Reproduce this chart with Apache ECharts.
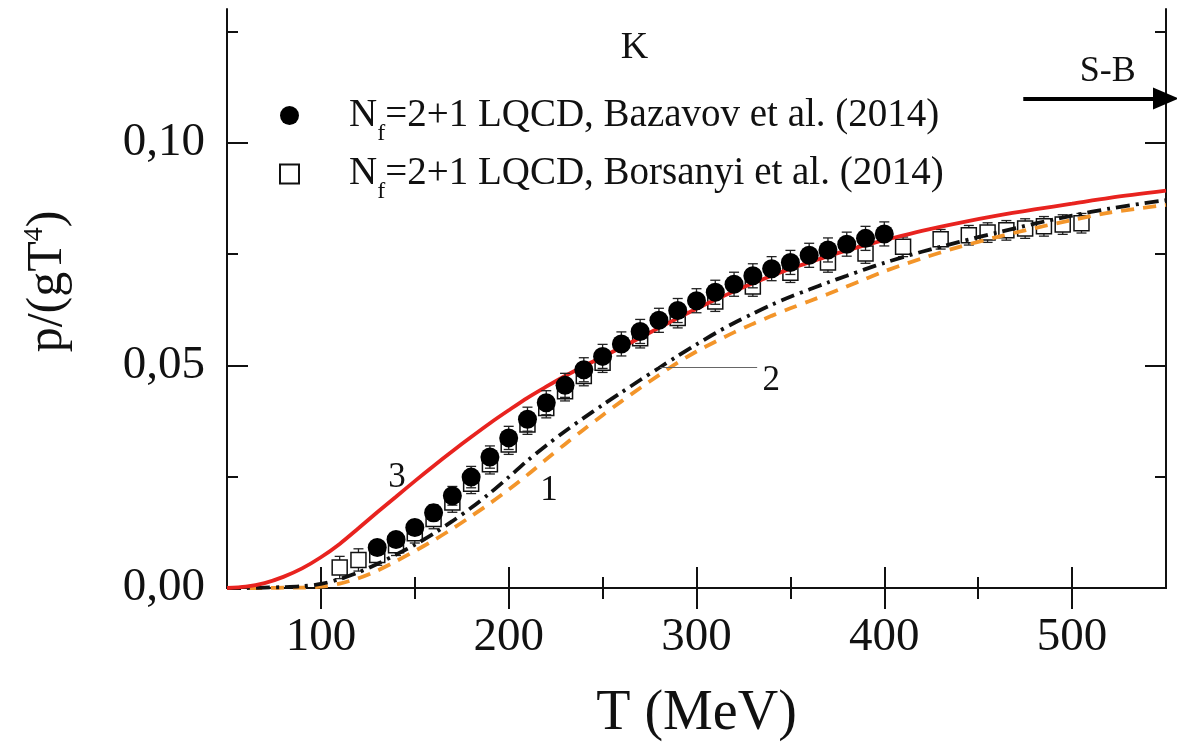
<!DOCTYPE html>
<html>
<head>
<meta charset="utf-8">
<script src="https://cdn.jsdelivr.net/npm/echarts@6/dist/echarts.min.js"></script>
<style>
html, body { margin: 0; padding: 0; background: #fff; }
#chart { width: 1177px; height: 747px; }
</style>
</head>
<body>
<div id="chart"></div>
<script>
// Bazavov et al. (2014), filled circles
var T_BAZ = [130, 140, 150, 160, 170, 180, 190, 200, 210, 220, 230, 240, 250, 260,
  270, 280, 290, 300, 310, 320, 330, 340, 350, 360, 370, 380, 390, 400];
var P_BAZ = [0.0091, 0.0109, 0.0136, 0.0169, 0.0207, 0.0249, 0.0294, 0.0337, 0.0379, 0.0416,
  0.0455, 0.0490, 0.0520, 0.0548, 0.0576, 0.0601, 0.0623, 0.0645, 0.0664, 0.0682,
  0.0701, 0.0717, 0.0731, 0.0747, 0.0759, 0.0772, 0.0785, 0.0795];
var E_BAZ = [0.0012, 0.0014, 0.0016, 0.0018, 0.0021, 0.0024, 0.0025, 0.0026, 0.0027, 0.0027,
  0.0027, 0.0027, 0.0027, 0.0027, 0.0027, 0.0027, 0.0027, 0.0027, 0.0027, 0.0027,
  0.0027, 0.0027, 0.0027, 0.0027, 0.0027, 0.0027, 0.0027, 0.0027];

// Borsanyi et al. (2014), open squares
var T_BOR = [110, 120, 130, 140, 150, 160, 170, 180, 190, 200, 210, 220, 230, 240, 250,
  270, 290, 310, 330, 350, 370, 390, 410, 430, 445, 455, 465, 475, 485, 495, 505];
var P_BOR = [0.0046, 0.0063, 0.0074, 0.0096, 0.0123, 0.0155, 0.0192, 0.0234, 0.0278, 0.0322,
  0.0367, 0.0404, 0.0442, 0.0476, 0.0506, 0.0561, 0.0606, 0.0643, 0.0677, 0.0708,
  0.0731, 0.0751, 0.0766, 0.0783, 0.0792, 0.0798, 0.0803, 0.0807, 0.0812, 0.0816, 0.0819];
var E_BOR = [0.0025, 0.0025, 0.0023, 0.0023, 0.0022, 0.0022, 0.0022, 0.0022, 0.0022, 0.0022,
  0.0022, 0.0022, 0.0022, 0.0022, 0.0022, 0.0022, 0.0022, 0.0022, 0.0022, 0.0022,
  0.0022, 0.0022, 0.0022, 0.0022, 0.0022, 0.0022, 0.0022, 0.0022, 0.0022, 0.0022, 0.0022];

// model curves
var T_CURVE = [50, 60, 70, 80, 90, 100, 110, 120, 130, 140, 150, 160, 170, 180, 190, 200,
  210, 220, 230, 240, 250, 260, 270, 280, 290, 300, 310, 320, 330, 340, 350, 360, 370,
  380, 390, 400, 420, 440, 460, 480, 500, 520, 550];
var CURVE_1 = [0, 0, 0, 0.0001, 0.0001, 0.0003, 0.0010, 0.0022, 0.0039, 0.0060, 0.0083,
  0.0107, 0.0133, 0.0161, 0.0190, 0.0221, 0.0254, 0.0289, 0.0323, 0.0356, 0.0388, 0.0419,
  0.0449, 0.0478, 0.0506, 0.0531, 0.0553, 0.0574, 0.0593, 0.0611, 0.0628, 0.0644, 0.0660,
  0.0677, 0.0694, 0.0711, 0.0740, 0.0766, 0.0788, 0.0808, 0.0826, 0.0843, 0.0860];
var CURVE_2 = [0, 0, 0.0001, 0.0002, 0.0004, 0.0009, 0.0020, 0.0035, 0.0054, 0.0075, 0.0097,
  0.0122, 0.0150, 0.0180, 0.0213, 0.0249, 0.0286, 0.0320, 0.0352, 0.0382, 0.0411, 0.0439,
  0.0467, 0.0494, 0.0521, 0.0547, 0.0572, 0.0595, 0.0616, 0.0636, 0.0654, 0.0670, 0.0686,
  0.0701, 0.0716, 0.0730, 0.0755, 0.0777, 0.0798, 0.0818, 0.0836, 0.0852, 0.0871];
var CURVE_3 = [0, 0.0003, 0.0011, 0.0025, 0.0044, 0.0069, 0.0099, 0.0134, 0.0170, 0.0205,
  0.0240, 0.0274, 0.0307, 0.0339, 0.0370, 0.0399, 0.0427, 0.0452, 0.0476, 0.0498, 0.0519,
  0.0540, 0.0562, 0.0584, 0.0606, 0.0627, 0.0647, 0.0666, 0.0684, 0.0701, 0.0717, 0.0731,
  0.0745, 0.0758, 0.0770, 0.0781, 0.0802, 0.0820, 0.0836, 0.0850, 0.0863, 0.0876, 0.0892];

var X_MAJOR = [100, 200, 300, 400, 500];
var X_MINOR = [150, 250, 350, 450];
var Y_MAJOR = [0, 0.05, 0.10];
var Y_MINOR = [0.025, 0.075, 0.125];

var FONT = "'Liberation Serif', 'Times New Roman', serif";

function pairs(xs, ys) {
  return xs.map(function (x, i) { return [x, ys[i]]; });
}
function bars(xs, ys, es) {
  return xs.map(function (x, i) { return [x, ys[i] - es[i], ys[i] + es[i]]; });
}

function errorBars(params, api) {
  var x = api.value(0);
  var lo = api.coord([x, api.value(1)]);
  var hi = api.coord([x, api.value(2)]);
  var cap = 5;
  var st = { stroke: '#222', lineWidth: 1.3 };
  return {
    type: 'group',
    children: [
      { type: 'line', shape: { x1: lo[0], y1: lo[1], x2: hi[0], y2: hi[1] }, style: st },
      { type: 'line', shape: { x1: hi[0] - cap, y1: hi[1], x2: hi[0] + cap, y2: hi[1] }, style: st },
      { type: 'line', shape: { x1: lo[0] - cap, y1: lo[1], x2: lo[0] + cap, y2: lo[1] }, style: st }
    ]
  };
}

function xAxis(pos, ticks, len, labels, line) {
  return {
    type: 'value', position: pos, min: 50, max: 550,
    name: labels ? 'T (MeV)' : '', nameLocation: 'middle', nameGap: 98,
    nameTextStyle: { fontFamily: FONT, fontSize: 56, color: '#111' },
    axisLine: { show: line, lineStyle: { color: '#111', width: 2 } },
    axisTick: { show: true, inside: true, length: len, customValues: ticks,
      lineStyle: { color: '#111', width: 2 } },
    axisLabel: { show: labels, customValues: X_MAJOR, margin: 26,
      fontFamily: FONT, fontSize: 47, color: '#111' },
    splitLine: { show: false }
  };
}
function yAxis(pos, ticks, len, labels, line) {
  return {
    type: 'value', position: pos, min: 0, max: 0.13,
    name: labels ? 'p/(gT{sup|4})' : '', nameLocation: 'middle', nameGap: 152, nameRotate: 90,
    nameTextStyle: { fontFamily: FONT, fontSize: 50, color: '#111', padding: [0, 0, 0, 34],
      rich: { sup: { fontFamily: FONT, fontSize: 28, color: '#111', padding: [0, 0, 26, 0] } } },
    axisLine: { show: line, lineStyle: { color: '#111', width: 2 } },
    axisTick: { show: true, inside: true, length: len, customValues: ticks,
      lineStyle: { color: '#111', width: 2 } },
    axisLabel: { show: labels, customValues: Y_MAJOR, margin: 22,
      fontFamily: FONT, fontSize: 47, color: '#111',
      formatter: function (v) { return v.toFixed(2).replace('.', ','); } },
    splitLine: { show: false }
  };
}

var chart = echarts.init(document.getElementById('chart'));
chart.setOption({
  animation: false,
  backgroundColor: '#fff',
  grid: { left: 227, right: 11, top: 9, bottom: 158 },
  legend: {
    orient: 'vertical', left: 274, top: 91, itemGap: 9,
    itemWidth: 19, itemHeight: 19,
    data: ['Bazavov', 'Borsanyi'],
    formatter: function (name) {
      return '{gap|}N{sub|f}=2+1 LQCD, ' + name + ' et al. (2014)';
    },
    textStyle: {
      fontFamily: FONT, fontSize: 39, color: '#111',
      rich: {
        gap: { width: 45 },
        sub: { fontFamily: FONT, fontSize: 24, color: '#111', padding: [36, 0, 0, 0] }
      }
    }
  },
  xAxis: [
    xAxis('bottom', X_MAJOR, 21, true, true),
    xAxis('bottom', X_MINOR, 11, false, false),
    xAxis('top', X_MAJOR, 21, false, true),
    xAxis('top', X_MINOR, 11, false, false)
  ],
  yAxis: [
    yAxis('left', Y_MAJOR, 21, true, true),
    yAxis('left', Y_MINOR, 11, false, false),
    yAxis('right', Y_MAJOR, 21, false, true),
    yAxis('right', Y_MINOR, 11, false, false)
  ],
  series: [
    {
      type: 'custom', name: 'Borsanyi err', z: 2,
      renderItem: errorBars, encode: { x: 0, y: [1, 2] },
      data: bars(T_BOR, P_BOR, E_BOR)
    },
    {
      type: 'scatter', name: 'Borsanyi', z: 3,
      symbol: 'rect', symbolSize: 15,
      itemStyle: { color: '#fff', borderColor: '#111', borderWidth: 1.5, opacity: 1 },
      data: pairs(T_BOR, P_BOR)
    },
    {
      type: 'line', name: '1', z: 4, showSymbol: false, symbol: 'none', smooth: 0.3,
      lineStyle: { color: '#f3952a', width: 3.8, type: [13, 9] },
      data: pairs(T_CURVE, CURVE_1)
    },
    {
      type: 'line', name: '2', z: 4, showSymbol: false, symbol: 'none', smooth: 0.3,
      lineStyle: { color: '#111', width: 3.8, type: [14, 6, 3, 6] },
      data: pairs(T_CURVE, CURVE_2)
    },
    {
      type: 'line', name: '3', z: 4, showSymbol: false, symbol: 'none', smooth: 0.3,
      lineStyle: { color: '#e8231f', width: 3.8 },
      data: pairs(T_CURVE, CURVE_3),
      markLine: {
        silent: true, animation: false,
        label: { show: false },
        data: [
          [{ coord: [474, 0.1099], symbol: 'none', lineStyle: { color: '#000', width: 4, type: 'solid' } },
           { coord: [550, 0.1099], symbol: 'triangle', symbolSize: [22, 26], symbolRotate: -90 }],
          [{ coord: [280.6, 0.0495], symbol: 'none', lineStyle: { color: '#666', width: 1.2, type: 'solid' } },
           { coord: [332.3, 0.0495], symbol: 'none' }]
        ]
      },
      markPoint: {
        silent: true, symbol: 'circle', symbolSize: 0,
        label: { show: true, position: 'inside', fontFamily: FONT, color: '#111', formatter: '{b}' },
        data: [
          { name: 'K', coord: [267, 0.1213], label: { fontSize: 38 } },
          { name: 'S-B', coord: [519, 0.1160], label: { fontSize: 36 } },
          { name: '3', coord: [140.5, 0.0248], label: { fontSize: 35 } },
          { name: '1', coord: [221.5, 0.0219], label: { fontSize: 35 } },
          { name: '2', coord: [339.8, 0.0466], label: { fontSize: 35 } }
        ]
      }
    },
    {
      type: 'custom', name: 'Bazavov err', z: 5,
      renderItem: errorBars, encode: { x: 0, y: [1, 2] },
      data: bars(T_BAZ, P_BAZ, E_BAZ)
    },
    {
      type: 'scatter', name: 'Bazavov', z: 6,
      symbol: 'circle', symbolSize: 19,
      itemStyle: { color: '#000', opacity: 1 },
      data: pairs(T_BAZ, P_BAZ)
    }
  ]
});
</script>
</body>
</html>
